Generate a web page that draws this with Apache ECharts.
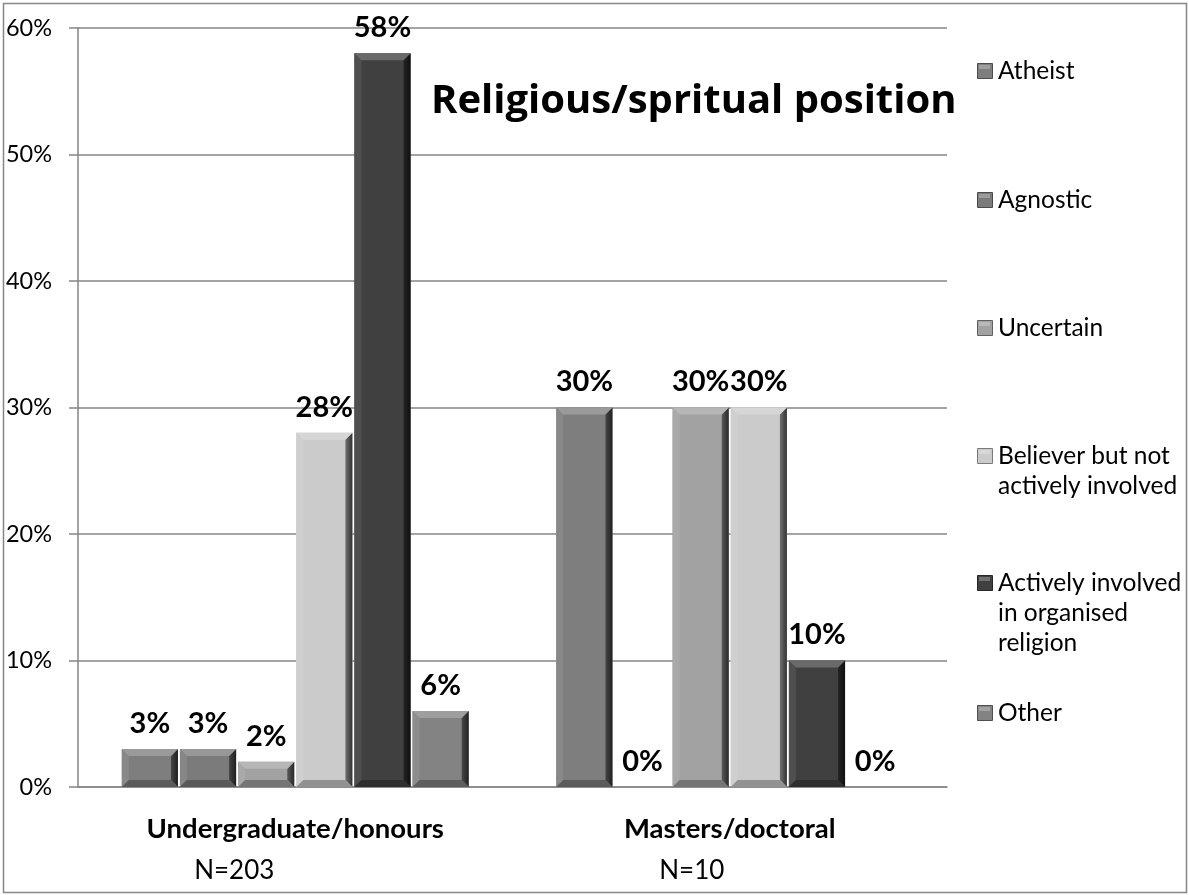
<!DOCTYPE html>
<html>
<head>
<meta charset="utf-8">
<script src="https://cdn.jsdelivr.net/npm/echarts@6/dist/echarts.min.js"></script>
<style>
  html, body { margin: 0; padding: 0; background: #fff; }
  #chart { width: 1189px; height: 895px; }
</style>
</head>
<body>
<div id="chart"></div>
<script>
// Study levels on the category axis, with their sample sizes
const categories = ['Undergraduate/honours', 'Masters/doctoral'];
const sampleSizes = ['N=203', 'N=10'];

// Religious/spiritual position groups (one bar per group in each study level)
const positions = [
  'Atheist',
  'Agnostic',
  'Uncertain',
  'Believer but not\nactively involved',
  'Actively involved\nin organised\nreligion',
  'Other'
];

// Percentages per group: [undergraduate, masters]
const atheist   = [3, 30];
const agnostic  = [3, 0];
const uncertain = [2, 30];
const believer  = [28, 30];
const active    = [58, 10];
const other     = [6, 0];

const valuesByPosition = [atheist, agnostic, uncertain, believer, active, other];
const fills = ['#7e7e7e', '#7b7b7b', '#a2a2a2', '#cbcbcb', '#404040', '#838383'];

const FONT = 'Lato, "Open Sans", sans-serif';
const TITLE_FONT = '"Open Sans", Lato, sans-serif';

// Shade a hex colour by a factor (>1 lighter, <1 darker)
function shade(hex, f) {
  const n = parseInt(hex.slice(1), 16);
  const ch = [(n >> 16) & 255, (n >> 8) & 255, n & 255].map(function (c) {
    const v = f >= 1 ? c + (255 - c) * (f - 1) : c * f;
    return Math.max(0, Math.min(255, Math.round(v)));
  });
  return 'rgb(' + ch.join(',') + ')';
}

// Bevelled bar drawn through the value/category scales, with its value label on top
function bevelBar(slot, color) {
  return function (params, api) {
    const cat = api.value(0);
    const val = api.value(1);
    const base = api.coord([cat, 0]);
    const top = api.coord([cat, val]);
    const band = api.size([1, 0])[0];
    const groupW = band * 0.803;
    const w = groupW / positions.length;
    const x0 = base[0] - groupW / 2 + slot * w + 1;
    const bw = w - 2;
    const yT = top[1];
    const yB = base[1];
    const h = yB - yT;
    const b = Math.min(7, h / 2);
    const children = [];
    if (h > 0) {
      children.push(
        { type: 'rect', shape: { x: x0, y: yT, width: bw, height: h }, style: { fill: color } },
        { type: 'polygon', shape: { points: [[x0, yT], [x0 + b, yT + b], [x0 + b, yB - b], [x0, yB]] },
          style: { fill: shade(color, 1.08) } },
        { type: 'polygon', shape: { points: [[x0 + bw, yT], [x0 + bw - b, yT + b], [x0 + bw - b, yB - b], [x0 + bw, yB]] },
          style: { fill: { type: 'linear', x: 0, y: 0, x2: 1, y2: 0,
            colorStops: [{ offset: 0, color: shade(color, 0.55) }, { offset: 1, color: shade(color, 0.25) }] } } },
        { type: 'polygon', shape: { points: [[x0, yT], [x0 + bw, yT], [x0 + bw - b, yT + b], [x0 + b, yT + b]] },
          style: { fill: shade(color, 1.22) } },
        { type: 'polygon', shape: { points: [[x0, yB], [x0 + bw, yB], [x0 + bw - b, yB - b], [x0 + b, yB - b]] },
          style: { fill: shade(color, 0.72) } }
      );
    }
    children.push({
      type: 'text',
      style: {
        x: x0 + bw / 2, y: yT - 11,
        text: val + '%',
        align: 'center', verticalAlign: 'bottom',
        font: 'bold 29px ' + FONT, fill: '#000'
      }
    });
    return { type: 'group', children: children };
  };
}

const series = positions.map(function (name, i) {
  return {
    type: 'custom',
    name: name,
    itemStyle: { color: fills[i] },
    renderItem: bevelBar(i, fills[i]),
    encode: { x: 0, y: 1 },
    data: valuesByPosition[i].map(function (v, c) { return [c, v]; }),
    z: 2
  };
});

// Key on the right: swatch beside the first line of each group name
const legendCentres = [71, 200, 328, 456, 583, 713];
const legendItems = positions.map(function (name, i) {
  const cy = legendCentres[i];
  return {
    type: 'group',
    silent: true,
    children: [
      { type: 'rect', shape: { x: 977.5, y: cy - 7.5, width: 15, height: 15 },
        style: { fill: fills[i], stroke: shade(fills[i], 0.6), lineWidth: 1 } },
      { type: 'rect', shape: { x: 979, y: cy - 6, width: 11, height: 4 },
        style: { fill: shade(fills[i], 1.25) } },
      { type: 'text', style: {
          x: 998, y: cy - 15, text: name,
          font: '24.5px ' + FONT, lineHeight: 30,
          align: 'left', verticalAlign: 'top', fill: '#000'
      } }
    ]
  };
});

const chart = echarts.init(document.getElementById('chart'), null, { renderer: 'canvas' });
chart.setOption({
  backgroundColor: '#fff',
  animation: false,
  title: {
    text: 'Religious/spritual position',
    left: 431,
    top: 79,
    padding: 0,
    textStyle: { fontFamily: TITLE_FONT, fontWeight: 'bold', fontSize: 40, lineHeight: 46, color: '#000' }
  },
  grid: { left: 78, right: 242, top: 28, bottom: 108, containLabel: false },
  xAxis: {
    type: 'category',
    data: categories,
    axisLine: { lineStyle: { color: '#868686', width: 1.5 } },
    axisTick: { length: 10, lineStyle: { color: '#868686', width: 1.5 } },
    axisLabel: {
      margin: 21,
      formatter: function (value, idx) {
        return '{c|' + value + '}\n{n' + idx + '|' + sampleSizes[idx] + '}';
      },
      rich: {
        c: { fontFamily: FONT, fontWeight: 'bold', fontSize: 27.5, color: '#000', lineHeight: 42 },
        n0: { fontFamily: FONT, fontSize: 26, color: '#000', lineHeight: 42, padding: [0, 122, 0, 0] },
        n1: { fontFamily: FONT, fontSize: 26, color: '#000', lineHeight: 42, padding: [0, 76, 0, 0] }
      }
    }
  },
  yAxis: {
    type: 'value',
    min: 0,
    max: 60,
    interval: 10,
    axisLine: { show: true, lineStyle: { color: '#868686', width: 1.5 } },
    axisTick: { show: true, length: 9, lineStyle: { color: '#868686', width: 1.5 } },
    splitLine: { lineStyle: { color: '#868686', width: 1.5 } },
    axisLabel: {
      margin: 26,
      formatter: '{value}%',
      fontFamily: FONT, fontSize: 23.5, color: '#000'
    }
  },
  graphic: [{
    type: 'rect',
    shape: { x: 3.5, y: 3.5, width: 1183, height: 889 },
    style: { fill: null, stroke: '#868686', lineWidth: 1.5 },
    silent: true,
    z: 0
  }].concat(legendItems),
  series: series
});
</script>
</body>
</html>
